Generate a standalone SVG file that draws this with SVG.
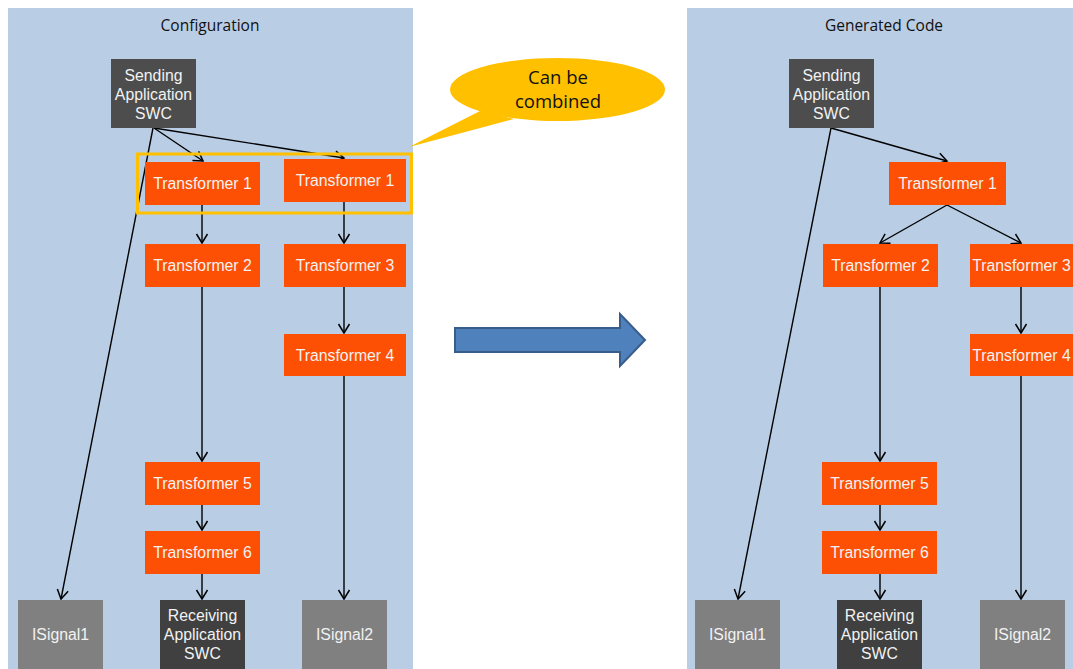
<svg xmlns="http://www.w3.org/2000/svg" width="1073" height="669" viewBox="0 0 1073 669">
<style>
.panel{fill:#B9CDE5}
.tr{fill:#FE5005}
.snd{fill:#4D4D4D}
.rcv{fill:#404040}
.sig{fill:#808080}
.t{font-family:"Liberation Sans",Arial,sans-serif;font-size:15.8px;fill:#F2F2F2;text-anchor:middle}
.h{font-family:"Open Sans","Liberation Sans",sans-serif;font-size:15.5px;fill:#111;text-anchor:middle}
.co{font-family:"Open Sans","Liberation Sans",sans-serif;font-size:18.5px;fill:#111;text-anchor:middle}
.c line{stroke:#000;stroke-width:1.4;marker-end:url(#ah)}
</style>
<defs>
<marker id="ah" markerUnits="userSpaceOnUse" markerWidth="14" markerHeight="14" refX="11" refY="7" orient="auto" viewBox="0 0 14 14">
<path d="M2,1.5 L11,7 L2,12.5" fill="none" stroke="#000" stroke-width="1.5"/>
</marker>
</defs>
<rect width="1073" height="669" fill="#fff"/>
<rect class="panel" x="8" y="8" width="405" height="661"/>
<rect class="panel" x="687" y="8" width="386" height="661"/>
<text class="h" x="210" y="31">Configuration</text>
<text class="h" x="884" y="31">Generated Code</text>

<g id="callout">
<path d="M480,111 L409,147 L514,119 Z" fill="#FFC000"/>
<ellipse cx="557.5" cy="89.5" rx="107.5" ry="31.5" fill="#FFC000"/>
<text class="co" x="558" y="84">Can be</text>
<text class="co" x="558" y="108">combined</text>
</g>

<g id="bigarrow">
<path d="M455,328 L620,328 L620,314 L645,340 L620,366 L620,352 L455,352 Z" fill="#4F81BD" stroke="#385D8A" stroke-width="2"/>
</g>

<g class="c" id="connectors">
<line x1="154" y1="128" x2="203" y2="161"/>
<line x1="154" y1="128" x2="344" y2="158"/>
<line x1="153" y1="128" x2="61" y2="599"/>
<line x1="202" y1="204" x2="202" y2="243"/>
<line x1="344" y1="202" x2="344" y2="243"/>
<line x1="202" y1="287" x2="202" y2="461"/>
<line x1="344" y1="287" x2="344" y2="333"/>
<line x1="344" y1="376" x2="344" y2="599"/>
<line x1="202" y1="505" x2="202" y2="530"/>
<line x1="202" y1="574" x2="202" y2="599"/>
<line x1="831" y1="128" x2="947" y2="161"/>
<line x1="831" y1="128" x2="738" y2="599"/>
<line x1="947" y1="205" x2="880" y2="243"/>
<line x1="947" y1="205" x2="1021" y2="243"/>
<line x1="880" y1="287" x2="880" y2="461"/>
<line x1="1021" y1="287" x2="1021" y2="333"/>
<line x1="1021" y1="376" x2="1021" y2="599"/>
<line x1="880" y1="505" x2="880" y2="530"/>
<line x1="880" y1="574" x2="880" y2="599"/>
</g>

<g id="L-sending"><rect class="snd" x="111" y="59" width="85" height="69"/>
<text class="t" x="153.5" y="81">Sending</text><text class="t" x="153.5" y="100">Application</text><text class="t" x="153.5" y="119">SWC</text></g>
<g id="L-t1a"><rect class="tr" x="145" y="162" width="115" height="43"/><text class="t" x="202.5" y="189">Transformer 1</text></g>
<g id="L-t1b"><rect class="tr" x="284" y="159" width="122" height="43"/><text class="t" x="345" y="186">Transformer 1</text></g>
<g id="L-highlight"><rect x="137.5" y="154" width="274" height="59" fill="none" stroke="#FFC000" stroke-width="3"/></g>
<g id="L-t2"><rect class="tr" x="145" y="244" width="115" height="43"/><text class="t" x="202.5" y="271">Transformer 2</text></g>
<g id="L-t3"><rect class="tr" x="284" y="244" width="122" height="43"/><text class="t" x="345" y="271">Transformer 3</text></g>
<g id="L-t4"><rect class="tr" x="284" y="334" width="122" height="42"/><text class="t" x="345" y="361">Transformer 4</text></g>
<g id="L-t5"><rect class="tr" x="145" y="462" width="115" height="43"/><text class="t" x="202.5" y="489">Transformer 5</text></g>
<g id="L-t6"><rect class="tr" x="145" y="531" width="115" height="43"/><text class="t" x="202.5" y="558">Transformer 6</text></g>
<g id="L-isig1"><rect class="sig" x="18" y="600" width="85" height="69"/><text class="t" x="60.5" y="640">ISignal1</text></g>
<g id="L-recv"><rect class="rcv" x="160" y="600" width="85" height="69"/>
<text class="t" x="202.5" y="621">Receiving</text><text class="t" x="202.5" y="640">Application</text><text class="t" x="202.5" y="659">SWC</text></g>
<g id="L-isig2"><rect class="sig" x="302" y="600" width="85" height="69"/><text class="t" x="344.5" y="640">ISignal2</text></g>

<g id="R-sending"><rect class="snd" x="789" y="59" width="85" height="69"/>
<text class="t" x="831.5" y="81">Sending</text><text class="t" x="831.5" y="100">Application</text><text class="t" x="831.5" y="119">SWC</text></g>
<g id="R-t1"><rect class="tr" x="889" y="162" width="117" height="43"/><text class="t" x="947.5" y="189">Transformer 1</text></g>
<g id="R-t2"><rect class="tr" x="823" y="244" width="115" height="43"/><text class="t" x="880.5" y="271">Transformer 2</text></g>
<g id="R-t3"><rect class="tr" x="970" y="244" width="103" height="43"/><text class="t" x="1021.5" y="271">Transformer 3</text></g>
<g id="R-t4"><rect class="tr" x="970" y="334" width="103" height="42"/><text class="t" x="1021.5" y="361">Transformer 4</text></g>
<g id="R-t5"><rect class="tr" x="822" y="462" width="115" height="43"/><text class="t" x="879.5" y="489">Transformer 5</text></g>
<g id="R-t6"><rect class="tr" x="822" y="531" width="115" height="43"/><text class="t" x="879.5" y="558">Transformer 6</text></g>
<g id="R-isig1"><rect class="sig" x="695" y="600" width="85" height="69"/><text class="t" x="737.5" y="640">ISignal1</text></g>
<g id="R-recv"><rect class="rcv" x="837" y="600" width="85" height="69"/>
<text class="t" x="879.5" y="621">Receiving</text><text class="t" x="879.5" y="640">Application</text><text class="t" x="879.5" y="659">SWC</text></g>
<g id="R-isig2"><rect class="sig" x="980" y="600" width="85" height="69"/><text class="t" x="1022.5" y="640">ISignal2</text></g>
</svg>
